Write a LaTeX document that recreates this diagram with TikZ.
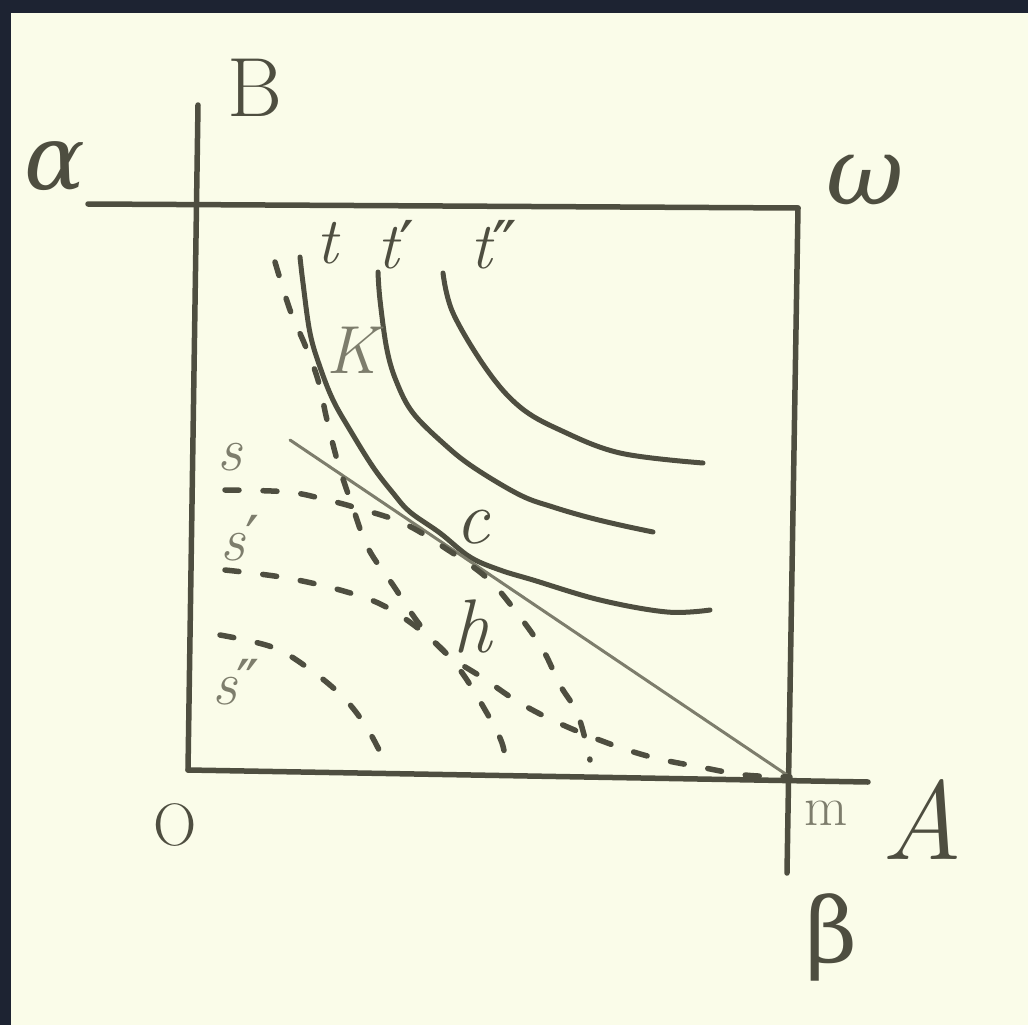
\documentclass[tikz,border=0pt]{standalone}
\usepackage{fontspec}
\newfontfamily\greekf{DejaVu Serif}
\newcommand{\pr}{{\greekf\upshape ′}}
\newcommand{\ppr}{{\greekf\upshape ″}}
\definecolor{bgc}{RGB}{250,252,233}
\definecolor{framec}{RGB}{29,35,50}
\definecolor{ink}{RGB}{78,78,64}
\definecolor{inklight}{RGB}{125,125,108}
\begin{document}
\begin{tikzpicture}[x=1pt,y=-1pt,
  boxline/.style={draw=ink,line width=5.5pt,line cap=round},
  curveline/.style={draw=ink,line width=5pt,line cap=round},
  tanline/.style={draw=inklight,line width=3pt,line cap=round},
  dashline/.style={draw=ink,line width=5.5pt,line cap=round,dash pattern=on 14pt off 24pt},
  lab/.style={text=ink,inner sep=0pt},
  lablight/.style={text=inklight,inner sep=0pt}]
\useasboundingbox (0,0) rectangle (1028,1025);
\fill[bgc] (0,0) rectangle (1028,1025);
\fill[framec] (0,0) rectangle (1028,13);
\fill[framec] (0,0) rectangle (11,1025);
% frame coordinates
\coordinate (aL) at (88,204);
\coordinate (TR) at (798,208);
\coordinate (BR) at (790,777);
\coordinate (BL) at (188,770);
\coordinate (Btop) at (198,105);
\coordinate (Aend) at (868,782);
\coordinate (betaEnd) at (787,873);
% axes and box
\draw[boxline] (Btop) -- (BL);
\draw[boxline] (aL) -- (TR);
\draw[boxline] (TR) -- (betaEnd);
\draw[boxline] (BL) -- (Aend);
% solid curves t, t', t''
\draw[curveline] plot[smooth,tension=0.6] coordinates {(300,257) (303,283) (310,333) (320,367) (333,400) (350,430) (373,467) (393,493) (410,512) (440,533) (470,557) (500,570) (533,580) (600,600) (667,612) (710,610)};
\draw[curveline] plot[smooth,tension=0.6] coordinates {(378,272) (380,300) (387,350) (397,383) (413,413) (443,443) (473,467) (520,495) (553,507) (587,517) (620,525) (653,532)};
\draw[curveline] plot[smooth,tension=0.6] coordinates {(443,273) (453,313) (487,370) (520,407) (560,430) (620,453) (703,463)};
% tangent line
\draw[tanline] (290,440) -- (BR);
% dashed curves
\draw[dashline] plot[smooth,tension=0.6] coordinates {(275,262) (290,310) (305,345) (318,380) (327,420) (338,463) (352,505) (368,548) (393,585) (420,625) (448,655) (483,678) (520,703) (563,725) (613,745) (655,758) (700,767) (745,775) (790,777)};
\draw[dashline] plot[smooth,tension=0.6] coordinates {(225,490) (288,492) (327,500) (357,508) (403,523) (445,548) (487,578) (517,613) (543,650) (560,685) (578,715) (590,760)};
\draw[dashline] plot[smooth,tension=0.6] coordinates {(225,570) (287,578) (347,592) (388,608) (430,638) (460,670) (488,715) (502,743) (506,765)};
\draw[dashline] plot[smooth,tension=0.6] coordinates {(220,635) (272,647) (308,668) (343,697) (367,728) (385,762)};
% labels
\node[lab,font=\fontsize{84}{84}\selectfont] (lB) at (255,88) {B};
\node[lab,font=\greekf\itshape\fontsize{90}{90}\selectfont] (lalpha) at (55,166) {α};
\node[lab,font=\greekf\itshape\fontsize{95}{95}\selectfont] (lomega) at (865,180) {ω};
\node[lab,font=\fontsize{60}{60}\selectfont] (lO) at (175,825) {O};
\node[lab,font=\itshape\fontsize{112}{112}\selectfont] (lA) at (922,820) {A};
\node[lab,font=\greekf\fontsize{90}{90}\selectfont] (lbeta) at (832,937) {β};
\node[lablight,font=\fontsize{56}{56}\selectfont] (lm) at (826,813) {m};
\node[lab,font=\itshape\fontsize{66}{66}\selectfont] (lt) at (327,243) {t};
\node[lab,font=\itshape\fontsize{66}{66}\selectfont] (lt1) at (396,245) {t\pr};
\node[lab,font=\itshape\fontsize{66}{66}\selectfont] (lt2) at (494,245) {t\ppr};
\node[lablight,font=\itshape\fontsize{68}{68}\selectfont] (lK) at (352,350) {K};
\node[lab,font=\itshape\fontsize{76}{76}\selectfont] (lc) at (473,527) {c};
\node[lab,font=\itshape\fontsize{76}{76}\selectfont] (lh) at (472,627) {h};
\node[lablight,font=\itshape\fontsize{62}{62}\selectfont] (ls) at (230,457) {s};
\node[lablight,font=\itshape\fontsize{62}{62}\selectfont] (ls1) at (240,538) {s\pr};
\node[lablight,font=\itshape\fontsize{62}{62}\selectfont] (ls2) at (236,682) {s\ppr};
\end{tikzpicture}
\end{document}
